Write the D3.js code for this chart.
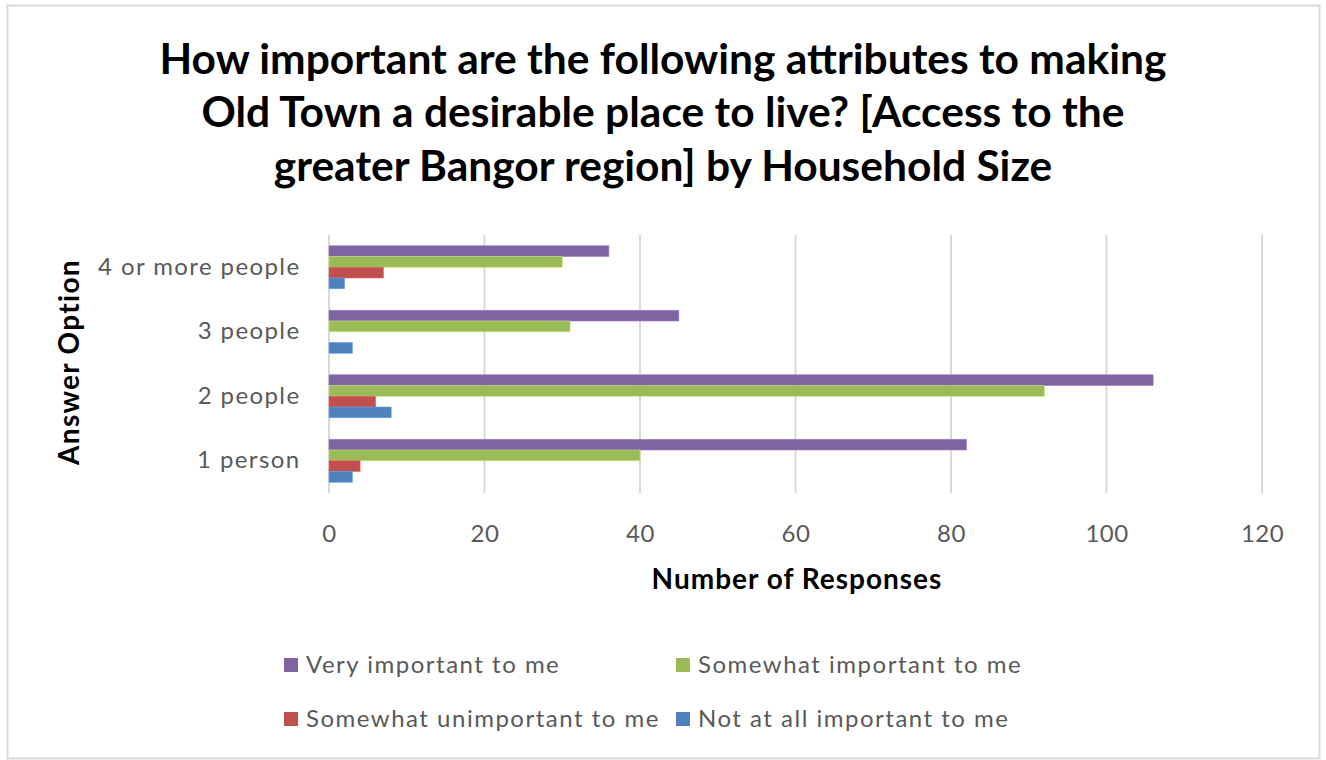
<!DOCTYPE html>
<html>
<head>
<meta charset="utf-8">
<script src="https://cdn.jsdelivr.net/npm/d3@7"></script>
<style>
  html, body { margin: 0; padding: 0; background: #fff; }
  svg { display: block; }
  text { font-family: Lato, "Open Sans", sans-serif; }
</style>
</head>
<body>
<svg id="chart" width="1326" height="760"></svg>
<script>
// Household size groups (top to bottom on the chart)
const categories = ["4 or more people", "3 people", "2 people", "1 person"];

// Series names, drawn top to bottom within each group
const seriesNames = [
  "Very important to me",
  "Somewhat important to me",
  "Somewhat unimportant to me",
  "Not at all important to me"
];

// Responses per household size, in the same order as categories
const veryImportant       = [36, 45, 106, 82];
const somewhatImportant   = [30, 31, 92, 40];
const somewhatUnimportant = [7, 0, 6, 4];
const notAtAllImportant   = [2, 3, 8, 3];

const xTicks = [0, 20, 40, 60, 80, 100, 120];

const titleLines = [
  "How important are the following attributes to making",
  "Old Town a desirable place to live? [Access to the",
  "greater Bangor region] by Household Size"
];

const seriesColors = ["#8064A2", "#9BBB59", "#C0504D", "#4F81BD"];
const seriesValues = [veryImportant, somewhatImportant, somewhatUnimportant, notAtAllImportant];

const svg = d3.select("#chart");

// Chart frame
svg.append("rect")
  .attr("x", 7.5).attr("y", 5.5)
  .attr("width", 1312).attr("height", 753)
  .attr("fill", "#fff")
  .attr("stroke", "#D9D9D9")
  .attr("stroke-width", 2);

// Title
const title = svg.append("text")
  .attr("text-anchor", "middle")
  .attr("font-weight", "bold")
  .attr("font-size", 42.5)
  .attr("fill", "#000");
titleLines.forEach((line, i) => {
  title.append("tspan")
    .attr("x", 663)
    .attr("y", 74 + i * 53.3)
    .text(line);
});

// Plot area
const plot = { left: 329, right: 1262, top: 235, bottom: 493 };

const x = d3.scaleLinear()
  .domain([0, 120])
  .range([plot.left, plot.right]);

const y = d3.scaleBand()
  .domain(categories)
  .range([plot.top, plot.bottom])
  .paddingInner(0)
  .paddingOuter(0);

const bandH = y.bandwidth();
const groupPad = bandH / 6;
const ySeries = d3.scaleBand()
  .domain(seriesNames)
  .range([groupPad, bandH - groupPad]);

// Vertical gridlines
svg.append("g")
  .selectAll("line")
  .data(xTicks)
  .join("line")
  .attr("x1", d => x(d)).attr("x2", d => x(d))
  .attr("y1", plot.top).attr("y2", plot.bottom)
  .attr("stroke", "#D9D9D9")
  .attr("stroke-width", 2);

// Bars
const groups = svg.append("g")
  .selectAll("g")
  .data(categories)
  .join("g")
  .attr("transform", d => `translate(0,${y(d)})`);

groups.selectAll("rect")
  .data((cat, ci) => seriesNames.map((s, si) => ({ s, si, v: seriesValues[si][ci] })))
  .join("rect")
  .filter(d => d.v > 0)
  .attr("x", x(0))
  .attr("y", d => ySeries(d.s))
  .attr("width", d => x(d.v) - x(0))
  .attr("height", ySeries.bandwidth())
  .attr("fill", d => seriesColors[d.si])
  .attr("stroke", d => d3.color(seriesColors[d.si]).brighter(0.6))
  .attr("stroke-width", 0.6);

// X axis tick labels
const xAxis = d3.axisBottom(x).tickValues(xTicks).tickSize(0).tickPadding(0);
const gx = svg.append("g")
  .attr("transform", `translate(0,${plot.bottom + 32})`)
  .call(xAxis);
gx.select(".domain").remove();
gx.selectAll("text")
  .attr("dy", "0.71em")
  .attr("font-size", 24)
  .attr("letter-spacing", 0.5)
  .attr("font-family", "Lato, 'Open Sans', sans-serif")
  .attr("fill", "#595959");

// Y axis category labels
const yAxis = d3.axisLeft(y).tickSize(0).tickPadding(0);
const gy = svg.append("g")
  .attr("transform", `translate(${plot.left - 28.5},0)`)
  .call(yAxis);
gy.select(".domain").remove();
gy.selectAll("text")
  .attr("font-size", 24)
  .attr("letter-spacing", 1.4)
  .attr("font-family", "Lato, 'Open Sans', sans-serif")
  .attr("fill", "#595959");

// Axis titles
svg.append("text")
  .attr("x", 797).attr("y", 589)
  .attr("text-anchor", "middle")
  .attr("font-weight", "bold")
  .attr("font-size", 28)
  .attr("letter-spacing", 1)
  .attr("fill", "#000")
  .text("Number of Responses");

svg.append("text")
  .attr("transform", "translate(79,362) rotate(-90)")
  .attr("text-anchor", "middle")
  .attr("font-weight", "bold")
  .attr("font-size", 28)
  .attr("letter-spacing", 1.3)
  .attr("fill", "#000")
  .text("Answer Option");

// Legend (two columns, two rows)
const legendPos = [
  { x: 284, y: 665 },
  { x: 676, y: 665 },
  { x: 284, y: 719 },
  { x: 676, y: 719 }
];
const legend = svg.append("g")
  .selectAll("g")
  .data(seriesNames)
  .join("g")
  .attr("transform", (d, i) => `translate(${legendPos[i].x},${legendPos[i].y})`);

legend.append("rect")
  .attr("x", 0).attr("y", -7)
  .attr("width", 14).attr("height", 14)
  .attr("fill", (d, i) => seriesColors[i]);

legend.append("text")
  .attr("x", 22).attr("y", 0)
  .attr("dy", "0.35em")
  .attr("font-size", 24)
  .attr("letter-spacing", 1.5)
  .attr("fill", "#595959")
  .text(d => d);
</script>
</body>
</html>
